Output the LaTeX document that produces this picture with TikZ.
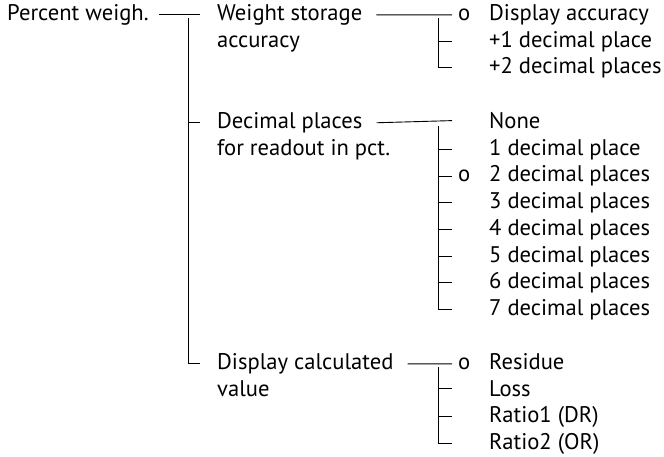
\documentclass[tikz,border=0pt]{standalone}
\usepackage{fontspec}
\setmainfont{PT Sans}
\begin{document}
\begin{tikzpicture}[x=1pt, y=-1pt,
  every node/.style={inner sep=0pt, anchor=mid west, font=\fontsize{22.6}{26}\selectfont}]

\useasboundingbox (0,0) rectangle (664,456);

\node (pw) at (7,18) {Percent weigh.};

\node (ws) at (217,18) {Weight storage};
\node (wsb) at (217,44.5) {accuracy};
\node (dp) at (217,126) {Decimal places};
\node (dpb) at (217,152.7) {for readout in pct.};
\node (dc) at (217,367) {Display calculated};
\node (dcb) at (217,393.5) {value};

\node (a1) at (489,18) {Display accuracy};
\node (a2) at (489,44.5) {+1 decimal place};
\node (a3) at (489,71) {+2 decimal places};

\node (b0) at (489,126) {None};
\node (b1) at (489,152.7) {1 decimal place};
\node (b2) at (489,179.4) {2 decimal places};
\node (b3) at (489,206.1) {3 decimal places};
\node (b4) at (489,232.8) {4 decimal places};
\node (b5) at (489,259.5) {5 decimal places};
\node (b6) at (489,286.2) {6 decimal places};
\node (b7) at (489,313) {7 decimal places};

\node (c1) at (489,367) {Residue};
\node (c2) at (489,393.5) {Loss};
\node (c3) at (489,420) {Ratio1 (DR)};
\node (c4) at (489,446.5) {Ratio2 (OR)};

\node (oa) at (458,18) {o};
\node (ob) at (458,179.4) {o};
\node (oc) at (458,367) {o};

\coordinate (bus0) at (188,18);
\coordinate (busa) at (438,18);
\coordinate (busb) at (438,126);
\coordinate (busc) at (438,367);

\begin{scope}[line width=0.9pt]
\draw ([xshift=10]pw.east) -- ([xshift=-17]ws.west);
\draw (bus0) |- ([xshift=-17]dp.west);
\draw (bus0) |- ([xshift=-17]dc.west);

\draw ([xshift=14]ws.east) -- ([xshift=-6]oa.west);
\draw (busa) |- ([xshift=-37]a2.west);
\draw (busa) |- ([xshift=-37]a3.west);

\draw ([xshift=14]dp.east) -- ([xshift=-37]b0.west);
\draw (busb) |- ([xshift=-37]b1.west);
\draw (busb) |- ([xshift=-6]ob.west);
\draw (busb) |- ([xshift=-37]b3.west);
\draw (busb) |- ([xshift=-37]b4.west);
\draw (busb) |- ([xshift=-37]b5.west);
\draw (busb) |- ([xshift=-37]b6.west);
\draw (busb) |- ([xshift=-37]b7.west);

\draw ([xshift=14]dc.east) -- ([xshift=-6]oc.west);
\draw (busc) |- ([xshift=-37]c2.west);
\draw (busc) |- ([xshift=-37]c3.west);
\draw (busc) |- ([xshift=-37]c4.west);
\end{scope}

\end{tikzpicture}
\end{document}
